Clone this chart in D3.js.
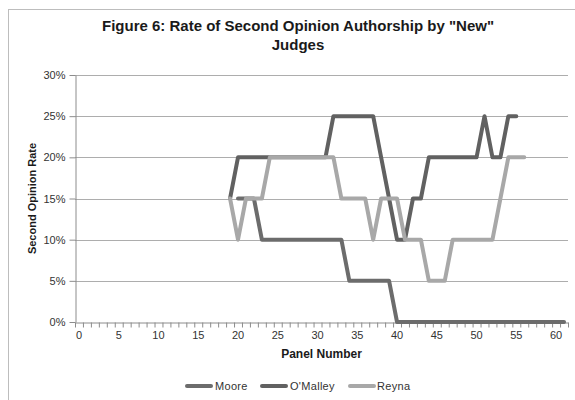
<!DOCTYPE html>
<html>
<head>
<meta charset="utf-8">
<script src="https://cdn.jsdelivr.net/npm/d3@7"></script>
<style>
  html, body { margin: 0; padding: 0; background: #fff; }
  svg { display: block; font-family: "Liberation Sans", Arial, sans-serif; }
</style>
</head>
<body>
<svg id="chart" width="575" height="400"></svg>
<script>
// Panel numbers on the category axis
const panels = d3.range(0, 62);
const xTickLabels = [0, 5, 10, 15, 20, 25, 30, 35, 40, 45, 50, 55, 60];
const yTicks = [0, 0.05, 0.10, 0.15, 0.20, 0.25, 0.30];

// Rate of second-opinion authorship per panel (null = judge not yet seated)
const moore = panels.map(p => null);
[[20,.15],[21,.15],[22,.15],[23,.10],[24,.10],[25,.10],[26,.10],[27,.10],[28,.10],[29,.10],
 [30,.10],[31,.10],[32,.10],[33,.10],[34,.05],[35,.05],[36,.05],[37,.05],[38,.05],[39,.05],
 [40,0],[41,0],[42,0],[43,0],[44,0],[45,0],[46,0],[47,0],[48,0],[49,0],[50,0],[51,0],[52,0],
 [53,0],[54,0],[55,0],[56,0],[57,0],[58,0],[59,0],[60,0],[61,0]].forEach(([p, v]) => moore[p] = v);

const omalley = panels.map(p => null);
[[19,.15],[20,.20],[21,.20],[22,.20],[23,.20],[24,.20],[25,.20],[26,.20],[27,.20],[28,.20],
 [29,.20],[30,.20],[31,.20],[32,.25],[33,.25],[34,.25],[35,.25],[36,.25],[37,.25],[38,.20],
 [39,.15],[40,.10],[41,.10],[42,.15],[43,.15],[44,.20],[45,.20],[46,.20],[47,.20],[48,.20],
 [49,.20],[50,.20],[51,.25],[52,.20],[53,.20],[54,.25],[55,.25]].forEach(([p, v]) => omalley[p] = v);

const reyna = panels.map(p => null);
[[19,.15],[20,.10],[21,.15],[22,.15],[23,.15],[24,.20],[25,.20],[26,.20],[27,.20],[28,.20],
 [29,.20],[30,.20],[31,.20],[32,.20],[33,.15],[34,.15],[35,.15],[36,.15],[37,.10],[38,.15],
 [39,.15],[40,.15],[41,.10],[42,.10],[43,.10],[44,.05],[45,.05],[46,.05],[47,.10],[48,.10],
 [49,.10],[50,.10],[51,.10],[52,.10],[53,.15],[54,.20],[55,.20],[56,.20]].forEach(([p, v]) => reyna[p] = v);

const seriesNames = ["Moore", "O'Malley", "Reyna"];
const seriesValues = [moore, omalley, reyna];
const seriesColors = ["#6c6c6c", "#616161", "#a8a8a8"];

const svg = d3.select("#chart");
const plot = { left: 75, right: 568, top: 75, bottom: 322 };

// Outer chart frame
svg.append("rect")
  .attr("x", 8.5).attr("y", 9.5).attr("width", 640).attr("height", 420)
  .attr("fill", "#fff").attr("stroke", "#bdbdbd").attr("stroke-width", 1);

// Title
const title = svg.append("text")
  .attr("text-anchor", "middle")
  .attr("font-size", 15).attr("font-weight", "bold").attr("fill", "#1a1a1a");
title.append("tspan").attr("x", 298).attr("y", 31).text('Figure 6: Rate of Second Opinion Authorship by "New"');
title.append("tspan").attr("x", 298).attr("y", 50).text("Judges");

const x = d3.scaleBand().domain(panels).range([plot.left, plot.right]).paddingInner(0).paddingOuter(0);
const xEdge = d3.scaleLinear().domain([0, panels.length]).range([plot.left, plot.right]);
const y = d3.scaleLinear().domain([0, 0.30]).range([plot.bottom, plot.top]);

// Horizontal gridlines
svg.append("g")
  .selectAll("line")
  .data(yTicks.filter(t => t > 0))
  .join("line")
  .attr("x1", plot.left).attr("x2", plot.right)
  .attr("y1", d => Math.round(y(d)) + 0.5).attr("y2", d => Math.round(y(d)) + 0.5)
  .attr("stroke", "#adadad").attr("stroke-width", 1);

// Y axis
const yAxis = svg.append("g")
  .attr("transform", `translate(${plot.left + 0.5},0)`)
  .call(d3.axisLeft(y).tickValues(yTicks).tickFormat(d3.format(".0%")).tickSize(6).tickSizeOuter(0));
yAxis.select(".domain").attr("stroke", "#8c8c8c");
yAxis.selectAll(".tick line").attr("stroke", "#8c8c8c");
yAxis.selectAll(".tick text").attr("font-size", 11).attr("fill", "#333").attr("font-family", "Liberation Sans, Arial, sans-serif").attr("x", -10);

// X axis: tick marks between categories, labels at category centres
const xMarks = svg.append("g")
  .attr("transform", `translate(0,${plot.bottom + 0.5})`)
  .call(d3.axisBottom(xEdge).tickValues(d3.range(0, panels.length + 1)).tickFormat("").tickSize(5).tickSizeOuter(0));
xMarks.select(".domain").attr("stroke", "#8c8c8c");
xMarks.selectAll(".tick line").attr("stroke", "#8c8c8c");

const xLabels = svg.append("g")
  .attr("transform", `translate(0,${plot.bottom + 0.5})`)
  .call(d3.axisBottom(x).tickValues(xTickLabels).tickSize(0).tickPadding(9));
xLabels.select(".domain").remove();
xLabels.selectAll(".tick text").attr("font-size", 11).attr("fill", "#333").attr("font-family", "Liberation Sans, Arial, sans-serif");

// Axis titles
svg.append("text")
  .attr("x", (plot.left + plot.right) / 2).attr("y", 358)
  .attr("text-anchor", "middle").attr("font-size", 12).attr("font-weight", "bold").attr("fill", "#1a1a1a")
  .text("Panel Number");

svg.append("text")
  .attr("transform", `translate(36,${(plot.top + plot.bottom) / 2}) rotate(-90)`)
  .attr("text-anchor", "middle").attr("font-size", 11).attr("font-weight", "bold").attr("fill", "#1a1a1a")
  .text("Second Opinion Rate");

// Series lines
const line = d3.line()
  .defined(d => d.v !== null)
  .x(d => x(d.p) + x.bandwidth() / 2)
  .y(d => y(d.v));

seriesValues.forEach((vals, i) => {
  svg.append("path")
    .datum(panels.map((p, j) => ({ p, v: vals[j] })))
    .attr("d", line)
    .attr("fill", "none")
    .attr("stroke", seriesColors[i])
    .attr("stroke-width", 4)
    .attr("stroke-linejoin", "round")
    .attr("stroke-linecap", "round");
});

// Legend
const legendPos = [
  { lx: 187, tx: 215 },
  { lx: 262, tx: 290 },
  { lx: 350, tx: 377 }
];
const legend = svg.append("g");
seriesNames.forEach((name, i) => {
  legend.append("line")
    .attr("x1", legendPos[i].lx).attr("x2", legendPos[i].lx + 24)
    .attr("y1", 386).attr("y2", 386)
    .attr("stroke", seriesColors[i]).attr("stroke-width", 4).attr("stroke-linecap", "round");
  legend.append("text")
    .attr("x", legendPos[i].tx).attr("y", 390)
    .attr("font-size", 11).attr("fill", "#333")
    .attr("letter-spacing", 0.3)
    .text(name);
});
</script>
</body>
</html>
